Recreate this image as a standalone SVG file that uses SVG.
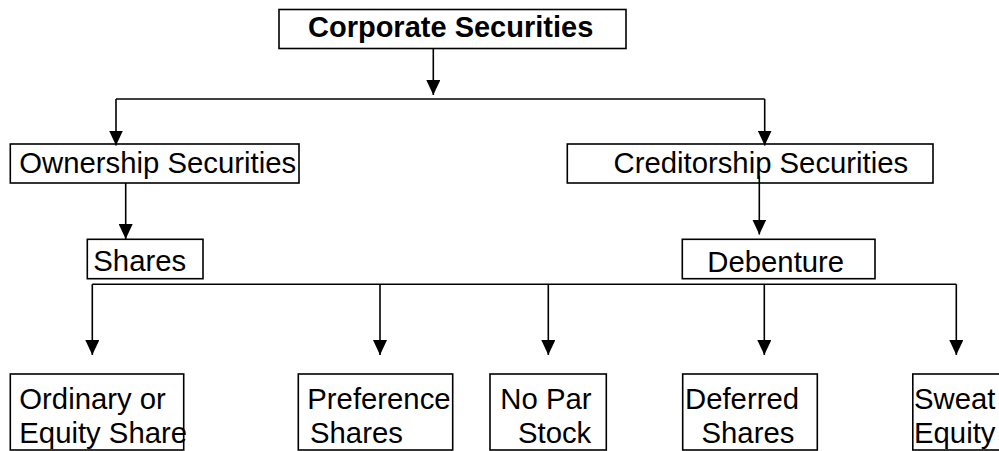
<svg xmlns="http://www.w3.org/2000/svg" width="999" height="451" viewBox="0 0 999 451">
<style>
.box{fill:#fff;stroke:#000;stroke-width:1.6}
.t{font-family:"Liberation Sans",Arial,sans-serif;font-size:29.3px;fill:#000}
.b{font-family:"Liberation Sans",Arial,sans-serif;font-size:29px;font-weight:bold;fill:#000}
.c{fill:none;stroke:#000;stroke-width:1.6}
</style>
<defs>
<marker id="ah" viewBox="0 0 15 14" refX="15" refY="7" markerWidth="15" markerHeight="14" markerUnits="userSpaceOnUse" orient="auto">
<path d="M0,0 L15,7 L0,14 z" fill="#000"/>
</marker>
</defs>
<g id="n-corporate">
<rect class="box" x="279" y="9.5" width="347" height="39"/>
<text class="b" x="308" y="37">Corporate Securities</text>
</g>
<g id="n-ownership">
<rect class="box" x="10.3" y="144" width="288.7" height="39"/>
<text class="t" x="19.3" y="172.8">Ownership Securities</text>
</g>
<g id="n-creditorship">
<rect class="box" x="567.3" y="144" width="365.7" height="39"/>
<text class="t" x="613.5" y="172.8">Creditorship Securities</text>
</g>
<g id="n-shares">
<rect class="box" x="87.3" y="239.3" width="115.7" height="39.4"/>
<text class="t" x="93.3" y="271.3">Shares</text>
</g>
<g id="n-debenture">
<rect class="box" x="682.3" y="239.3" width="192.7" height="39.4"/>
<text class="t" x="707.3" y="271.8">Debenture</text>
</g>
<g id="n-ordinary">
<rect class="box" x="10.3" y="374" width="173.4" height="76"/>
<text class="t" x="19.3" y="409.3">Ordinary or</text>
<text class="t" x="19.3" y="442.8">Equity Share</text>
</g>
<g id="n-preference">
<rect class="box" x="298.3" y="374" width="154.4" height="76"/>
<text class="t" x="307.3" y="409.3">Preference</text>
<text class="t" x="310" y="442.8">Shares</text>
</g>
<g id="n-nopar">
<rect class="box" x="490" y="374" width="116.3" height="76"/>
<text class="t" x="500.3" y="409.3">No Par</text>
<text class="t" x="518" y="442.8">Stock</text>
</g>
<g id="n-deferred">
<rect class="box" x="682.7" y="374" width="134.6" height="76"/>
<text class="t" x="685" y="409.3">Deferred</text>
<text class="t" x="701.5" y="442.8">Shares</text>
</g>
<g id="n-sweat">
<rect class="box" x="912.8" y="374" width="100" height="76"/>
<text class="t" x="914" y="409.3">Sweat</text>
<text class="t" x="914" y="442.8">Equity</text>
</g>
<g id="connectors">
<path class="c" d="M433.3,48.5 V95" marker-end="url(#ah)"/>
<path class="c" d="M116,99 H764.7"/>
<path class="c" d="M116,99 V145.5" marker-end="url(#ah)"/>
<path class="c" d="M764.7,99 V145.5" marker-end="url(#ah)"/>
<path class="c" d="M125.7,183 V239" marker-end="url(#ah)"/>
<path class="c" d="M759.3,176.5 V234.5" marker-end="url(#ah)"/>
<path class="c" d="M92.3,284.2 H956.3"/>
<path class="c" d="M92.3,284.2 V355" marker-end="url(#ah)"/>
<path class="c" d="M380,284.2 V355" marker-end="url(#ah)"/>
<path class="c" d="M548.3,284.2 V355" marker-end="url(#ah)"/>
<path class="c" d="M764.3,284.2 V355" marker-end="url(#ah)"/>
<path class="c" d="M956.3,284.2 V355" marker-end="url(#ah)"/>
</g>
</svg>
